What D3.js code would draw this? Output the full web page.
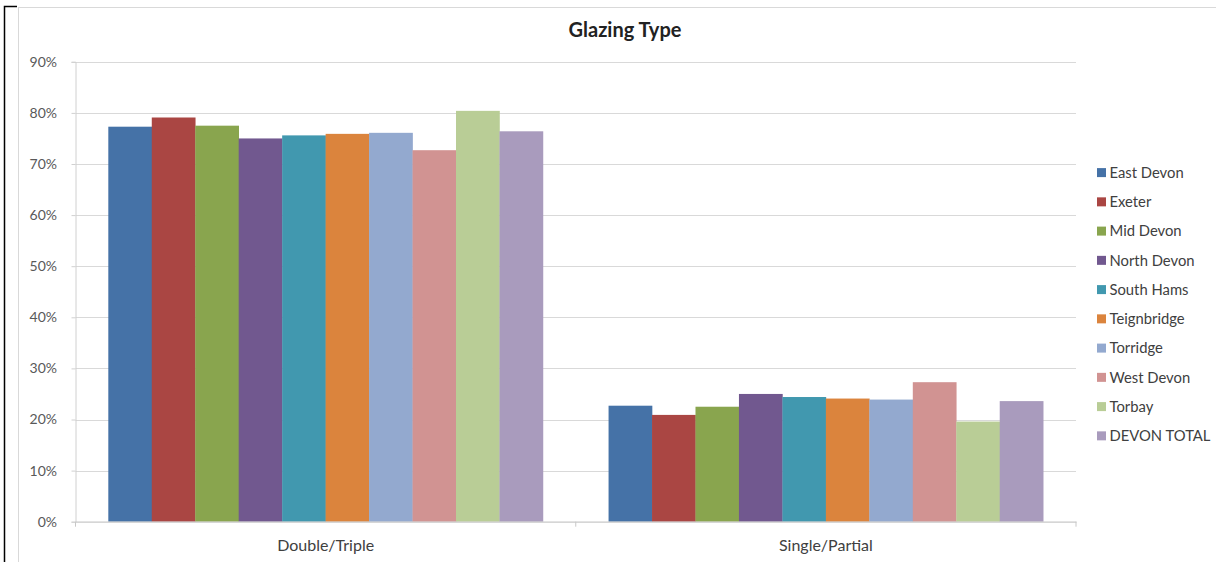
<!DOCTYPE html>
<html>
<head>
<meta charset="utf-8">
<script src="https://cdn.jsdelivr.net/npm/d3@7"></script>
<style>
  html, body { margin: 0; padding: 0; background: #fff; }
  svg { display: block; }
  text { font-family: Lato, "Open Sans", sans-serif; }
</style>
</head>
<body>
<svg id="chart" width="1216" height="562"></svg>
<script>
// Glazing type share by district
const categories = ["Double/Triple", "Single/Partial"];
const districts = ["East Devon", "Exeter", "Mid Devon", "North Devon", "South Hams",
                   "Teignbridge", "Torridge", "West Devon", "Torbay", "DEVON TOTAL"];
const doubleTriple  = [77.3, 79.1, 77.5, 75.0, 75.6, 75.9, 76.1, 72.7, 80.4, 76.4];
const singlePartial = [22.7, 20.9, 22.5, 25.0, 24.4, 24.1, 23.9, 27.3, 19.6, 23.6];
const colors = ["#4572A7", "#AA4643", "#89A54E", "#71588F", "#4198AF",
                "#DB843D", "#93A9CF", "#D19392", "#B9CD96", "#A99BBD"];
const yTicks = [0, 10, 20, 30, 40, 50, 60, 70, 80, 90];
const title = "Glazing Type";

const seriesValues = [doubleTriple, singlePartial];

const svg = d3.select("#chart");

// outer frame
svg.append("rect").attr("x", 18.5).attr("y", 7.5).attr("width", 1200).attr("height", 560)
  .attr("fill", "#fff").attr("stroke", "#d9d9d9").attr("stroke-width", 1);
svg.append("path").attr("d", "M4.5,562 V6.5 H17")
  .attr("fill", "none").attr("stroke", "#000").attr("stroke-width", 1.5);

const plot = { left: 75.5, right: 1076, top: 61.8, bottom: 521.7 };

const x0 = d3.scaleBand().domain(categories).range([plot.left, plot.right]).paddingInner(0).paddingOuter(0);
// gap of ~151% of one bar width split across the cluster edges
const barW = x0.bandwidth() / (districts.length + 1.51);
const x1 = d3.scaleBand().domain(districts)
  .range([0, barW * districts.length]);
const y = d3.scaleLinear().domain([0, 90]).range([plot.bottom, plot.top]);

// gridlines
svg.append("g").selectAll("line").data(yTicks.filter(d => d > 0)).join("line")
  .attr("x1", plot.left).attr("x2", plot.right)
  .attr("y1", d => Math.round(y(d)) + 0.5).attr("y2", d => Math.round(y(d)) + 0.5)
  .attr("stroke", "#d9d9d9").attr("stroke-width", 1.2);

// y axis
const yAxis = d3.axisLeft(y).tickValues(yTicks).tickFormat(d => d + "%").tickSize(4).tickPadding(14);
const gy = svg.append("g").attr("transform", `translate(${plot.left},0)`).call(yAxis);
gy.select(".domain").attr("stroke", "#d0d0d0");
gy.selectAll(".tick line").attr("stroke", "#d0d0d0");
gy.selectAll(".tick text").attr("fill", "#595959").style("font-size", "14px")
  .attr("x", -18.5);

// bars
const groups = svg.append("g").selectAll("g").data(categories).join("g")
  .attr("transform", d => `translate(${x0(d) + (x0.bandwidth() - barW * districts.length) / 2},0)`);
groups.selectAll("rect")
  .data((c, ci) => districts.map((name, i) => ({ name, i, v: seriesValues[ci][i] })))
  .join("rect")
  .attr("x", d => x1(d.name))
  .attr("width", x1.bandwidth() + 0.3)
  .attr("y", d => y(d.v))
  .attr("height", d => y(0) - y(d.v))
  .attr("fill", d => colors[d.i]);

// x axis
const xAxis = d3.axisBottom(x0).tickSize(0).tickPadding(18);
const gx = svg.append("g").attr("transform", `translate(0,${plot.bottom})`).call(xAxis);
gx.select(".domain").attr("stroke", "#c8c8c8").attr("stroke-width", 1.2);
gx.selectAll(".tick text").attr("fill", "#404040").style("font-size", "16px");
// category boundary tick marks
svg.append("g").selectAll("line")
  .data([plot.left, x0(categories[1]), plot.right]).join("line")
  .attr("x1", d => d).attr("x2", d => d)
  .attr("y1", plot.bottom).attr("y2", plot.bottom + 5)
  .attr("stroke", "#c8c8c8");

// title
svg.append("text").attr("x", 625).attr("y", 37).attr("text-anchor", "middle")
  .style("font-size", "20px").style("font-weight", "bold").attr("fill", "#222")
  .text(title);

// legend
const legend = svg.append("g").selectAll("g").data(districts).join("g")
  .attr("transform", (d, i) => `translate(1097,${172.6 + i * 29.25})`);
legend.append("rect").attr("x", 0).attr("y", -4.5).attr("width", 9).attr("height", 9)
  .attr("fill", (d, i) => colors[i]);
legend.append("text").attr("x", 12.5).attr("y", 0).attr("dy", "0.36em")
  .style("font-size", "14.8px").attr("fill", "#404040").text(d => d);
</script>
</body>
</html>
